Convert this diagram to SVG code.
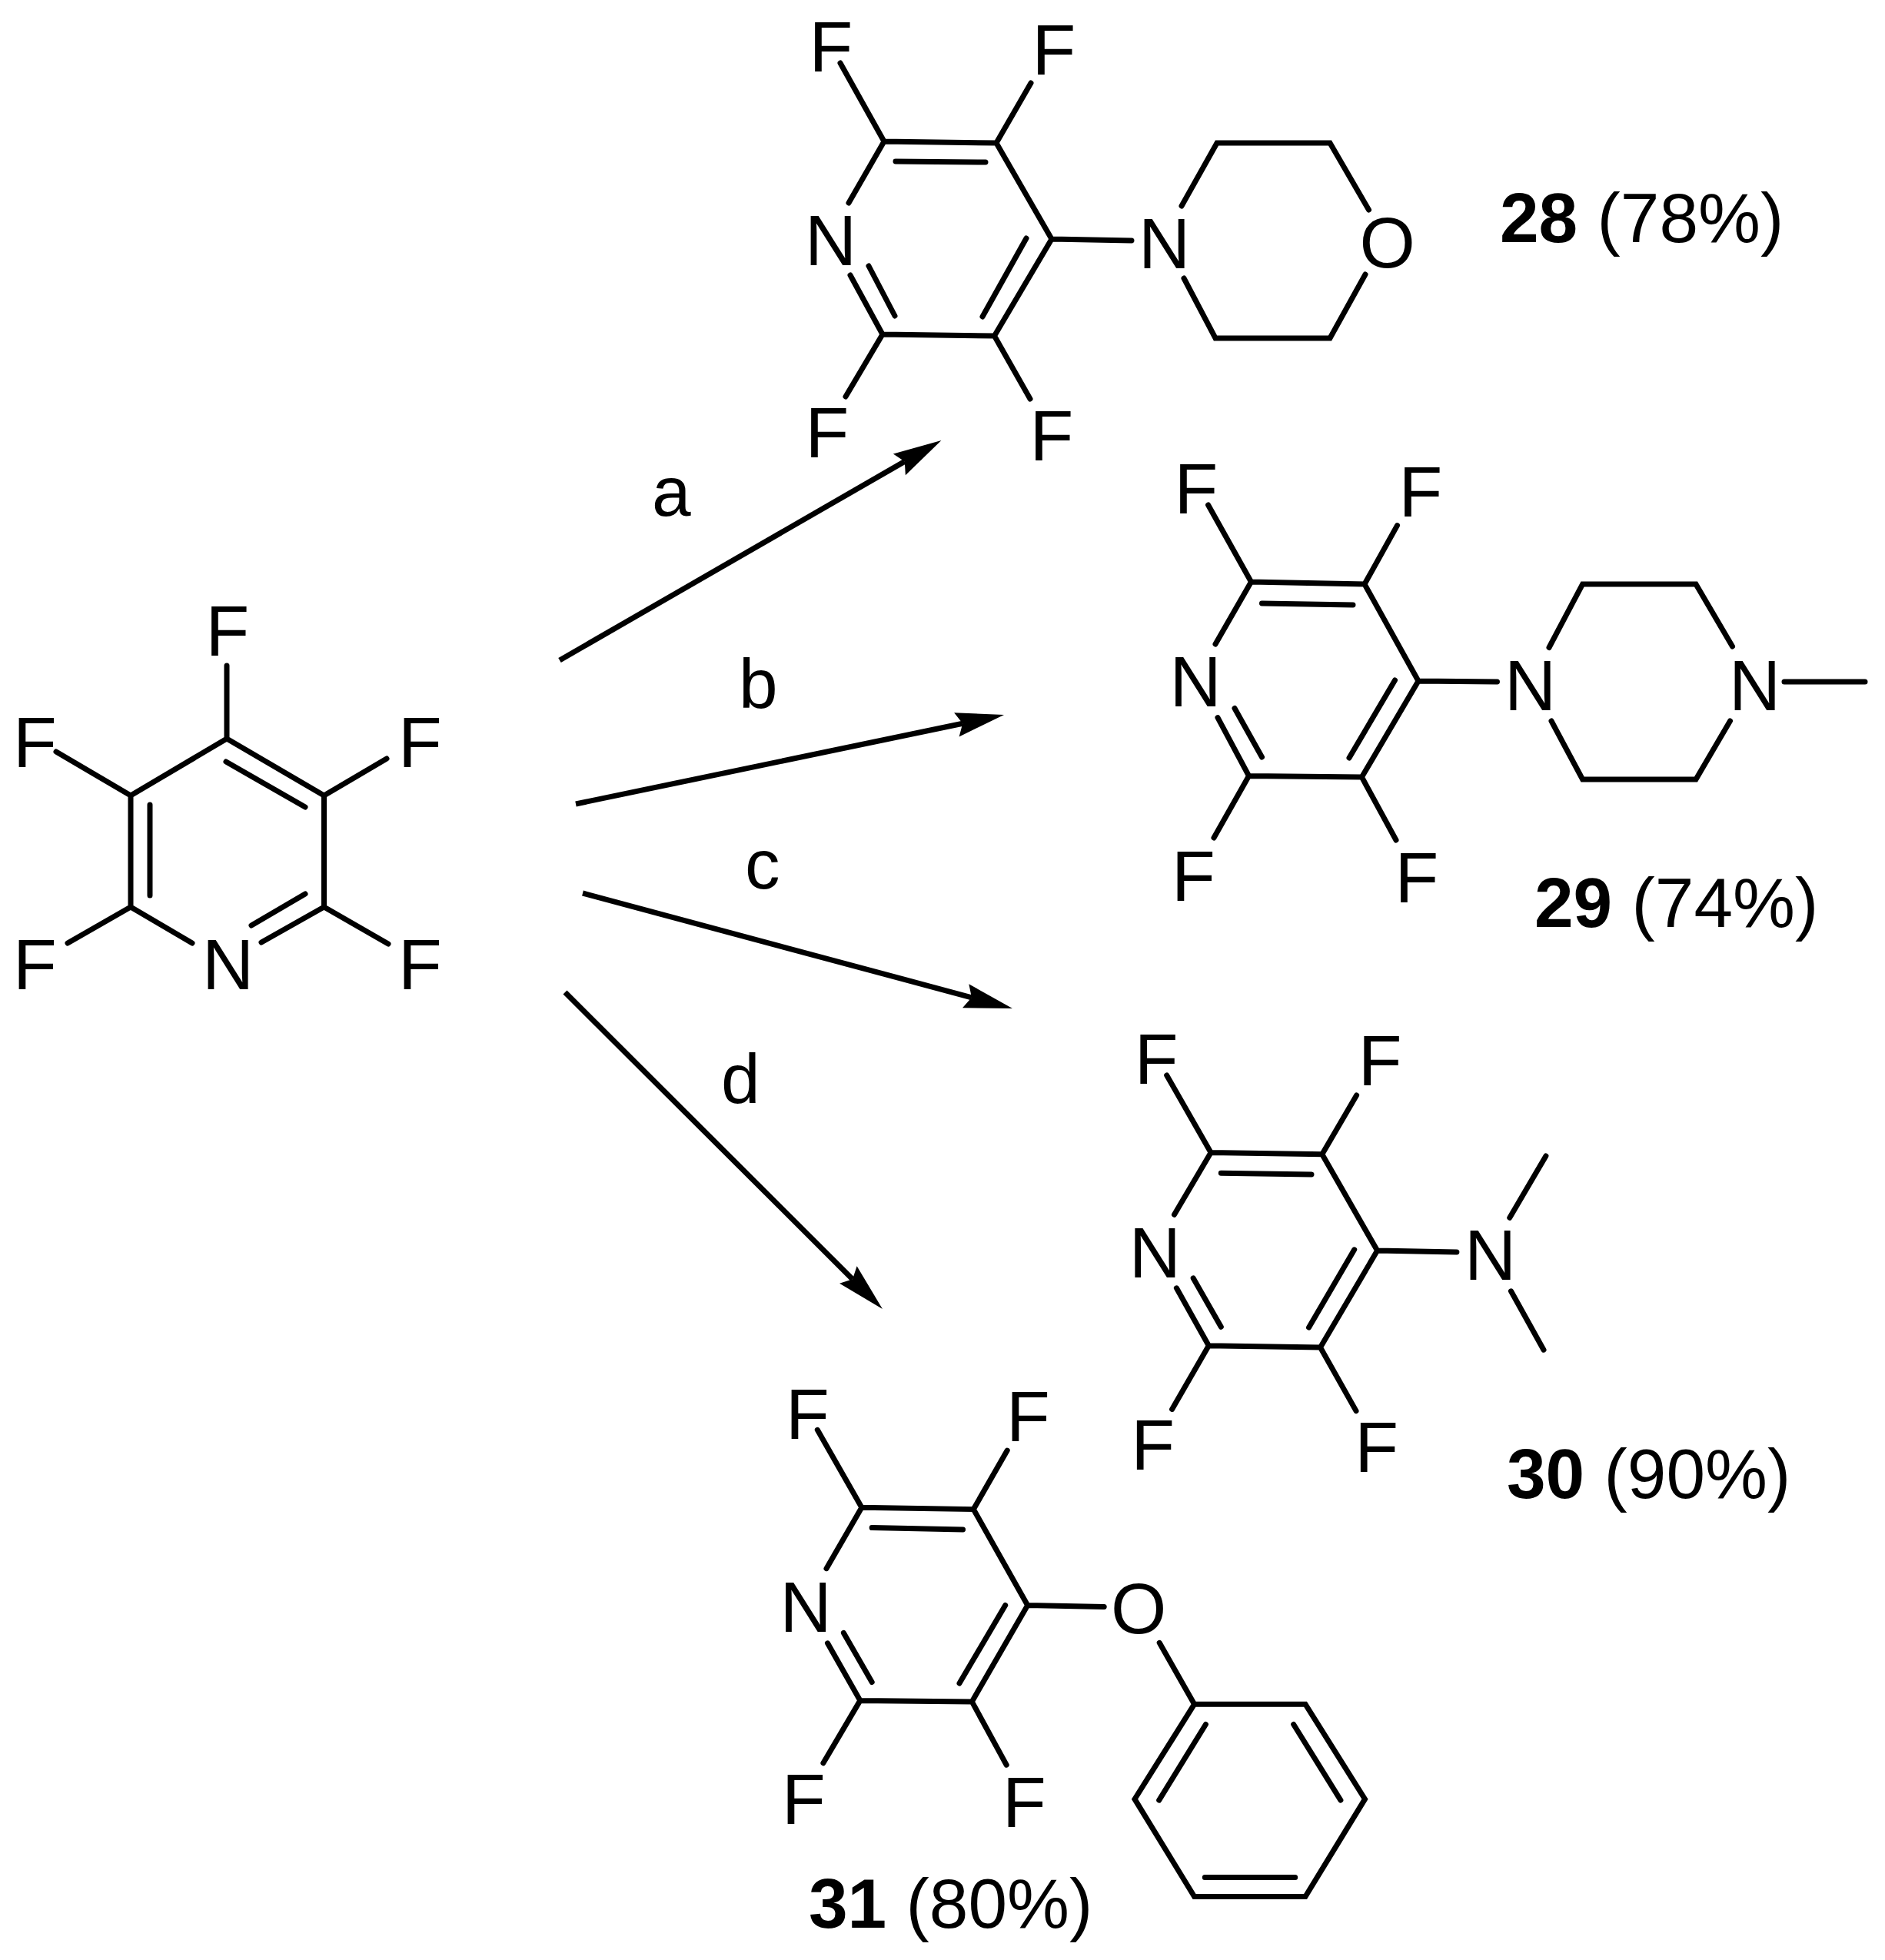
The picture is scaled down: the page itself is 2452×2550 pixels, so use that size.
<svg xmlns="http://www.w3.org/2000/svg" width="2452" height="2550" viewBox="0 0 2452 2550">
<style>
.b{fill:none;stroke:#000;stroke-width:7;stroke-linecap:round;stroke-linejoin:miter}
.a{fill:#000;font-family:"Liberation Sans",Arial,sans-serif;font-size:93px}
.l{fill:#000;font-family:"Liberation Sans",Arial,sans-serif;font-size:91px}
.y{font-weight:bold}
.r{fill:none;stroke:#000;stroke-width:7}
</style>
<defs>
<marker id="h" markerUnits="userSpaceOnUse" markerWidth="70" markerHeight="40" refX="8" refY="20" orient="auto" overflow="visible"><path d="M63 20L0 4L8 20L0 36Z" fill="#000"/></marker>
</defs>
<rect width="2452" height="2550" fill="#fff"/>
<g id="connectors">
<line class="r" x1="728" y1="859" x2="1176.8" y2="600.4" marker-end="url(#h)"/>
<line class="r" x1="749" y1="1046" x2="1252.2" y2="941.2" marker-end="url(#h)"/>
<line class="r" x1="758" y1="1162" x2="1263.9" y2="1297.8" marker-end="url(#h)"/>
<line class="r" x1="735" y1="1291" x2="1109" y2="1664.2" marker-end="url(#h)"/>
<text class="l" x="848" y="671">a</text>
<text class="l" x="961" y="921">b</text>
<text class="l" x="969" y="1156">c</text>
<text class="l" x="938" y="1435">d</text>
</g>
<g id="pentafluoropyridine">
<path class="b" d="M295 866V961M73 978L170 1035L295 961L421.5 1035V1180L340 1226M503 987L421.5 1035M170 1035V1180L250 1227M88 1227L170 1180M505 1228L421.5 1180M294 991L397 1050M195 1047V1165M397 1163L327 1204"/>
<text class="a" x="267.5" y="853">F</text>
<text class="a" x="17" y="997.6">F</text>
<text class="a" x="518" y="998">F</text>
<text class="a" x="17" y="1287">F</text>
<text class="a" x="518" y="1287">F</text>
<text class="a" x="263" y="1287">N</text>
</g>
<g id="compound-28">
<path class="b" d="M1104 264L1150 184L1296 186L1368 311L1293.5 437L1148 435L1106 358M1093 82L1150 184M1341 108L1296 186M1100 516L1148 435M1340 519L1293.5 437M1165 210L1282 211M1130 346L1164 411M1335 310L1278 412M1368 311L1472 313M1537 268L1583 186H1730L1780.5 273M1540 362L1581 440H1730L1776 357"/>
<text class="a" x="1052.5" y="93">F</text>
<text class="a" x="1342.5" y="97">F</text>
<text class="a" x="1047.5" y="595">F</text>
<text class="a" x="1339.5" y="599">F</text>
<text class="a" x="1047" y="345">N</text>
<text class="a" x="1481" y="349">N</text>
<text class="a" x="1768.5" y="348">O</text>
<text class="l" x="1951" y="315"><tspan class="y">28</tspan> (78%)</text>
</g>
<g id="compound-29">
<path class="b" d="M1581 838L1627.5 757L1775 760L1845 886L1771.4 1011L1624.5 1009.5L1584 933.6M1571.6 657L1627.5 757M1817.5 683.6L1775 760M1579 1090L1624.5 1009.5M1816 1093L1771.4 1011M1641.5 785L1760 787M1606 921.5L1641.5 985M1814.5 885L1755 986M1845 886L1947.5 887M2015 842.5L2058.6 760H2206L2253.5 841M2018 938L2058.6 1014H2206L2250.5 938M2321 887H2426"/>
<text class="a" x="1527.5" y="668">F</text>
<text class="a" x="1819.5" y="671.5">F</text>
<text class="a" x="1524" y="1171.5">F</text>
<text class="a" x="1814.5" y="1174">F</text>
<text class="a" x="1521.5" y="919">N</text>
<text class="a" x="1957" y="924">N</text>
<text class="a" x="2249" y="924">N</text>
<text class="l" x="1996" y="1206"><tspan class="y">29</tspan> (74%)</text>
</g>
<g id="compound-30">
<path class="b" d="M1527.5 1580.3L1575.1 1499.5L1719.8 1501.7L1791.6 1627.1L1717.5 1753L1572.3 1750.8L1530.4 1675.8M1517.7 1399L1575.1 1499.5M1764.6 1424.9L1719.8 1501.7M1524.6 1833.4L1572.3 1750.8M1764 1835.6L1717.5 1753M1588.3 1526.3L1706 1528M1552.2 1662.9L1588.3 1726.3M1761.7 1625.8L1702.6 1727.1M1791.6 1627.1L1894.9 1628.9M1963.8 1584.3L2010.9 1503.9M1965.5 1679.8L2008 1756.2"/>
<text class="a" x="1475.8" y="1410.2">F</text>
<text class="a" x="1766.8" y="1412.4">F</text>
<text class="a" x="1471.2" y="1912.4">F</text>
<text class="a" x="1762.2" y="1914.6">F</text>
<text class="a" x="1468.8" y="1661.5">N</text>
<text class="a" x="1905" y="1665.1">N</text>
<text class="l" x="1960" y="1949"><tspan class="y">30</tspan> (90%)</text>
</g>
<g id="compound-31">
<path class="b" d="M1075 2040.7L1120.9 1961.2L1266.3 1963.6L1336.7 2088.5L1264.3 2213.9L1118.9 2212.4L1076.5 2137.8M1063.3 1860.3L1120.9 1961.2M1310.2 1887.1L1266.3 1963.6M1070.9 2293.8L1118.9 2212.4M1309.2 2296.2L1264.3 2213.9M1134.2 1987.6L1252.6 1990M1097.4 2124.4L1134.2 2188.5M1307.7 2088.5L1248 2190M1336.7 2088.5L1436.2 2090.4M1508.2 2137.3L1553.6 2217.2H1698L1775.5 2340.7L1698 2467.5H1553.6L1476 2340.7L1553.6 2217.2M1568.4 2243.5L1507.7 2342.1M1682.7 2243.5L1743.9 2342.1M1567.3 2442.6H1684.7"/>
<text class="a" x="1022" y="1871.8">F</text>
<text class="a" x="1309" y="1875.1">F</text>
<text class="a" x="1017" y="2373.2">F</text>
<text class="a" x="1304" y="2376.6">F</text>
<text class="a" x="1014.4" y="2123">N</text>
<text class="a" x="1445" y="2125">O</text>
<text class="l" x="1052" y="2508"><tspan class="y">31</tspan> (80%)</text>
</g>
</svg>
